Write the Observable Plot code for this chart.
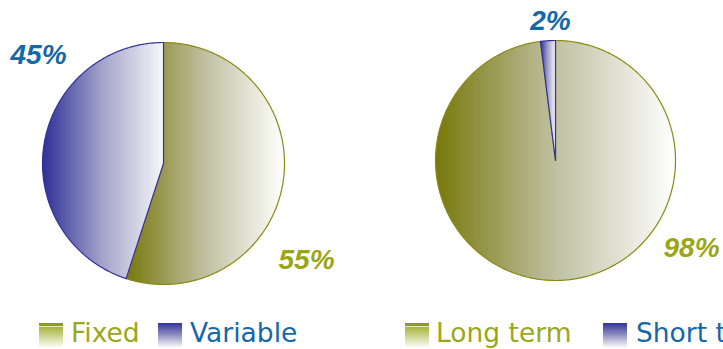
<!DOCTYPE html>
<html>
<head>
<meta charset="utf-8">
<script src="https://cdn.jsdelivr.net/npm/d3@7"></script>
<script src="https://cdn.jsdelivr.net/npm/@observablehq/plot@0.6"></script>
<style>
  html, body { margin: 0; padding: 0; background: #fff; overflow: hidden; }
  #wrap { position: relative; width: 723px; height: 349px; }
  #legend { position: absolute; left: 0; top: 0; width: 723px; height: 349px; pointer-events: none; }
  .sw { position: absolute; width: 24px; height: 25px; }
  .sw.olive { background: linear-gradient(to bottom, #8e9c1c 0, #8e9c1c 3px, #e6ebc0 3px, #e6ebc0 4px, #a6b43a 4px, #ffffff 100%); }
  .sw.blue { background: linear-gradient(to bottom, #33339a 0%, #8a8ac0 45%, #ffffff 100%); }
  .lt { position: absolute; font-family: "DejaVu Sans", Verdana, sans-serif; font-size: 26.5px; line-height: 1; white-space: nowrap; }
  .lt.olive { color: #9aa718; }
  .lt.blue { color: #1667a6; }
</style>
</head>
<body>
<div id="wrap"><div id="chart"></div><div id="legend"></div></div>
<script>
// Interest rate split
const rateCategories = ["Fixed", "Variable"];
const rateValues = [55, 45];
// Maturity split
const maturityCategories = ["Long term", "Short term"];
const maturityValues = [98, 2];

const W = 723, H = 310;

// Pie placement and label offsets (in pixels from each pie centre)
const pies = [
  {name: "rate", categories: rateCategories, values: rateValues, cx: 163, cy: 163, r: 121,
   labelOffsets: [[143, 97], [-125, -108]]},
  {name: "maturity", categories: maturityCategories, values: maturityValues, cx: 555, cy: 160, r: 120,
   labelOffsets: [[136, 88], [-5, -139]]}
];
const tone = ["olive", "blue"];           // first slice olive, second blue
const labelColor = {olive: "#9aa614", blue: "#1568a8"};

// Build slice outlines from the values with d3.pie (0 = 12 o'clock, clockwise)
const slicePoints = [];
const labels = [];
for (const p of pies) {
  const arcs = d3.pie().sort(null)(p.values);
  arcs.forEach((a, i) => {
    const key = p.name + "-" + p.categories[i];
    const t = tone[i];
    slicePoints.push({key, tone: t, x: p.cx, y: p.cy});
    const n = Math.max(4, Math.ceil((a.endAngle - a.startAngle) / (Math.PI / 360)));
    for (let k = 0; k <= n; ++k) {
      const ang = a.startAngle + (a.endAngle - a.startAngle) * k / n;
      slicePoints.push({key, tone: t, x: p.cx + p.r * Math.sin(ang), y: p.cy - p.r * Math.cos(ang)});
    }
    slicePoints.push({key, tone: t, x: p.cx, y: p.cy});
    labels.push({
      text: `${p.values[i]}%`, tone: t,
      x: p.cx + p.labelOffsets[i][0], y: p.cy + p.labelOffsets[i][1]
    });
  });
}

// Horizontal gradients, stretched over each slice's bounding box
const gradientDefs = () => {
  const g = d3.create("svg:g");
  const defs = g.append("defs");
  const olive = defs.append("linearGradient").attr("id", "grad-olive").attr("x1", 0).attr("x2", 1).attr("y1", 0).attr("y2", 0);
  olive.append("stop").attr("offset", "0%").attr("stop-color", "#78780c");
  olive.append("stop").attr("offset", "50%").attr("stop-color", "#c0c0a2");
  olive.append("stop").attr("offset", "100%").attr("stop-color", "#ffffff");
  const blue = defs.append("linearGradient").attr("id", "grad-blue").attr("x1", 0).attr("x2", 1).attr("y1", 0).attr("y2", 0);
  blue.append("stop").attr("offset", "0%").attr("stop-color", "#2f2f98");
  blue.append("stop").attr("offset", "50%").attr("stop-color", "#a4a4ca");
  blue.append("stop").attr("offset", "100%").attr("stop-color", "#f7f7fb");
  return g.node();
};

const chart = Plot.plot({
  width: W,
  height: H,
  margin: 0,
  x: {type: "identity"},
  y: {type: "identity"},
  axis: null,
  marks: [
    gradientDefs,
    Plot.line(slicePoints.filter(d => d.tone === "olive"), {
      x: "x", y: "y", z: "key", fill: "url(#grad-olive)", stroke: "#8a8a14", strokeWidth: 1.2, curve: "linear"
    }),
    Plot.line(slicePoints.filter(d => d.tone === "blue"), {
      x: "x", y: "y", z: "key", fill: "url(#grad-blue)", stroke: "#32329a", strokeWidth: 1.2, curve: "linear"
    }),
    Plot.text(labels, {
      x: "x", y: "y", text: "text", fill: d => labelColor[d.tone],
      fontFamily: "Liberation Sans, Arial, sans-serif", fontSize: 28, fontWeight: "bold", fontStyle: "italic",
      textAnchor: "middle"
    })
  ]
});
document.getElementById("chart").appendChild(chart);

// Legend below the pies
const legendItems = [
  {label: rateCategories[0], tone: "olive", swatchX: 39, textX: 71},
  {label: rateCategories[1], tone: "blue", swatchX: 158, textX: 190},
  {label: maturityCategories[0], tone: "olive", swatchX: 405, textX: 436},
  {label: maturityCategories[1], tone: "blue", swatchX: 603, textX: 636}
];
const legend = document.getElementById("legend");
for (const it of legendItems) {
  const sw = document.createElement("div");
  sw.className = "sw " + it.tone;
  sw.style.left = it.swatchX + "px";
  sw.style.top = "323px";
  legend.appendChild(sw);
  const t = document.createElement("div");
  t.className = "lt " + it.tone;
  t.textContent = it.label;
  t.style.left = it.textX + "px";
  t.style.top = "320px";
  legend.appendChild(t);
}
</script>
</body>
</html>
